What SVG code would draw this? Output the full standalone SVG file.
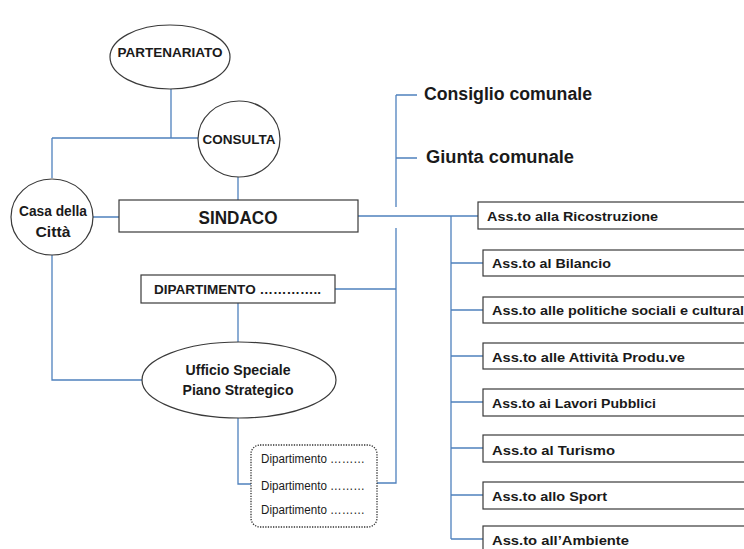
<svg xmlns="http://www.w3.org/2000/svg" width="744" height="549" viewBox="0 0 744 549">
<style>
.n{fill:#fff;stroke:#3a3a3a;stroke-width:1.2}
.c{fill:none;stroke:#4f81bd;stroke-width:1.3}
.t{font-family:"Liberation Sans",Arial,sans-serif;font-weight:bold;fill:#1a1a1a}
.s{font-family:"Liberation Sans",Arial,sans-serif;fill:#1a1a1a;font-size:12.5px}
.m{text-anchor:middle}
.a{font-size:13.3px}
</style>
<rect width="744" height="549" fill="#fff"/>
<g id="connectors">
<path class="c" d="M171 89V138M52 138H198M52 138V178M238 177V200M93 217H120M52 255V380H142M238 303V342M335 289H396M396 228V483H377M238 418V484H251M396 95V207M396 95H417M396 158H417M358 216H478M451 216V539M451 263H483M451 310H483M451 356H483M451 402H483M451 448H483M451 495H483M451 539H483"/>
</g>
<g id="partenariato"><ellipse class="n" cx="170" cy="57" rx="60" ry="32"/><text class="t m" x="170" y="57" font-size="13.5" textLength="105" lengthAdjust="spacingAndGlyphs">PARTENARIATO</text></g>
<g id="consulta"><ellipse class="n" cx="239" cy="139" rx="41" ry="38"/><text class="t m" x="239" y="144" font-size="13.5" textLength="73" lengthAdjust="spacingAndGlyphs">CONSULTA</text></g>
<g id="casa"><ellipse class="n" cx="52" cy="217" rx="41" ry="38"/><text class="t m" x="53" y="216" font-size="14" textLength="68" lengthAdjust="spacingAndGlyphs">Casa della</text><text class="t m" x="53" y="237" font-size="14" textLength="35" lengthAdjust="spacingAndGlyphs">Città</text></g>
<g id="sindaco"><rect class="n" x="119" y="200" width="239" height="32"/><text class="t m" x="238" y="224" font-size="18.5" textLength="79" lengthAdjust="spacingAndGlyphs">SINDACO</text></g>
<g id="consiglio"><text class="t" x="424" y="100" font-size="17.5" textLength="168" lengthAdjust="spacingAndGlyphs">Consiglio comunale</text></g>
<g id="giunta"><text class="t" x="426" y="163" font-size="17.5" textLength="148" lengthAdjust="spacingAndGlyphs">Giunta comunale</text></g>
<g id="dipartimento"><rect class="n" x="141" y="275" width="194" height="28"/><text class="t" x="154" y="294" font-size="13.5" textLength="167" lengthAdjust="spacingAndGlyphs">DIPARTIMENTO …………..</text></g>
<g id="ufficio"><ellipse class="n" cx="239" cy="380" rx="97" ry="38"/><text class="t m" x="238" y="375" font-size="14" textLength="105" lengthAdjust="spacingAndGlyphs">Ufficio Speciale</text><text class="t m" x="238" y="395" font-size="14" textLength="111" lengthAdjust="spacingAndGlyphs">Piano Strategico</text></g>
<g id="dipartimenti"><rect x="251" y="445" width="126" height="82" rx="9" fill="#fff" stroke="#333" stroke-width="1.3" stroke-dasharray="1.3 1.3"/><text class="s" x="261" y="463" textLength="104" lengthAdjust="spacingAndGlyphs">Dipartimento ………</text><text class="s" x="261" y="490" textLength="104" lengthAdjust="spacingAndGlyphs">Dipartimento ………</text><text class="s" x="261" y="514" textLength="104" lengthAdjust="spacingAndGlyphs">Dipartimento ………</text></g>
<g id="ricostruzione"><rect class="n" x="478" y="202" width="280" height="27"/><text class="t a" x="487" y="221" textLength="171" lengthAdjust="spacingAndGlyphs">Ass.to  alla Ricostruzione</text></g>
<g id="bilancio"><rect class="n" x="483" y="250" width="280" height="26"/><text class="t a" x="492" y="268" textLength="119" lengthAdjust="spacingAndGlyphs">Ass.to  al Bilancio</text></g>
<g id="politiche"><rect class="n" x="483" y="297" width="280" height="26"/><text class="t a" x="492" y="315" textLength="252" lengthAdjust="spacingAndGlyphs">Ass.to  alle politiche sociali e cultural</text></g>
<g id="attivita"><rect class="n" x="483" y="343" width="280" height="26"/><text class="t a" x="492" y="362" textLength="193" lengthAdjust="spacingAndGlyphs">Ass.to  alle Attività Produ.ve</text></g>
<g id="lavori"><rect class="n" x="483" y="389" width="280" height="27"/><text class="t a" x="492" y="408" textLength="164" lengthAdjust="spacingAndGlyphs">Ass.to  ai Lavori Pubblici</text></g>
<g id="turismo"><rect class="n" x="483" y="435" width="280" height="27"/><text class="t a" x="492" y="455" textLength="123" lengthAdjust="spacingAndGlyphs">Ass.to  al  Turismo</text></g>
<g id="sport"><rect class="n" x="483" y="482" width="280" height="27"/><text class="t a" x="492" y="501" textLength="115" lengthAdjust="spacingAndGlyphs">Ass.to  allo Sport</text></g>
<g id="ambiente"><rect class="n" x="483" y="526" width="280" height="30"/><text class="t a" x="492" y="545" textLength="137" lengthAdjust="spacingAndGlyphs">Ass.to  all’Ambiente</text></g>
</svg>
